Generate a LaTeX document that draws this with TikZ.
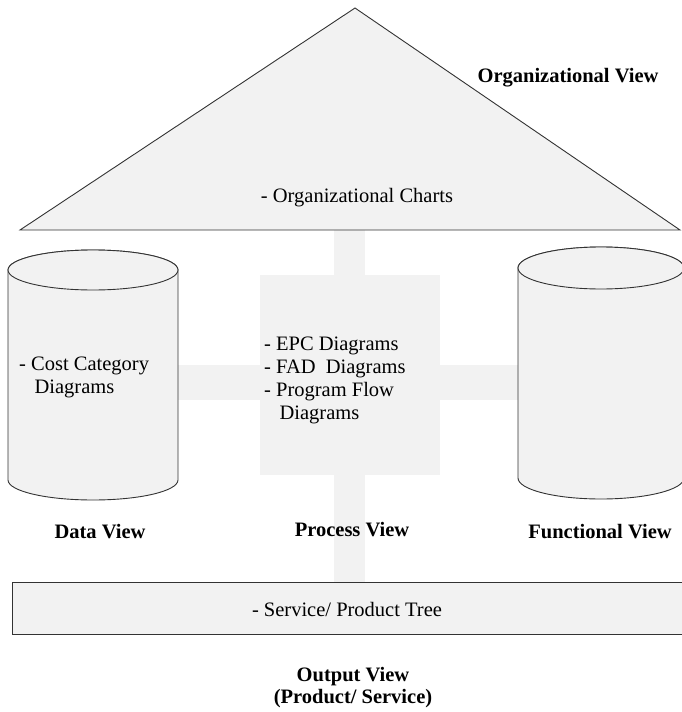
\documentclass[tikz,border=0pt]{standalone}
\usepackage{fontspec}
\setmainfont{Liberation Serif}
\begin{document}
\begin{tikzpicture}[x=1pt,y=-1pt,
  shade/.style={fill=black!5, draw=none},
  outline/.style={fill=black!5, draw=black!80, line width=0.9pt},
  label/.style={font=\fontsize{20.5}{23}\selectfont, inner sep=0pt},
  title/.style={font=\fontsize{20.5}{22}\selectfont\bfseries, inner sep=0pt, align=center}]
\useasboundingbox (0,0) rectangle (681,712);
% links between the views (light grey bands)
\fill[shade] (334,230) rectangle (365,582);
\fill[shade] (178,365) rectangle (518,400);
\fill[shade] (260,275) rectangle (440,475);
% organizational view: roof
\draw[outline] (20,230) -- (355,8) -- (680,230) -- cycle;
% data view cylinder
\draw[outline] (8,270) -- (8,480) arc[start angle=180, end angle=0, x radius=85, y radius=20]
  -- (178,270) arc[start angle=360, end angle=180, x radius=85, y radius=20];
\draw[outline] (93,270) ellipse[x radius=85, y radius=20];
% functional view cylinder
\draw[outline] (518,268) -- (518,478) arc[start angle=180, end angle=0, x radius=83, y radius=21]
  -- (684,268) arc[start angle=360, end angle=180, x radius=83, y radius=21];
\draw[outline] (601,268) ellipse[x radius=83, y radius=21];
% output view bar
\draw[outline] (12,582) rectangle (684,634);
% texts
\node[title] (org) at (568,78) {Organizational View};
\node[label] (orgc) at (357,198) {- Organizational Charts};
\node[label, align=left, anchor=west] (cost) at (19,377) {- Cost Category\\\hspace{0.75em}Diagrams};
\node[label, align=left, anchor=west] (proc) at (264,380) {- EPC Diagrams\\- FAD\ \ Diagrams\\- Program Flow\\\hspace{0.75em}Diagrams};
\node[title] (data) at (100,532) {Data View};
\node[title] (process) at (352,530) {Process View};
\node[title] (func) at (600,532) {Functional View};
\node[label] (tree) at (347,609) {- Service/ Product Tree};
\node[title] (out) at (353,688) {Output View\\(Product/ Service)};
\end{tikzpicture}
\end{document}
